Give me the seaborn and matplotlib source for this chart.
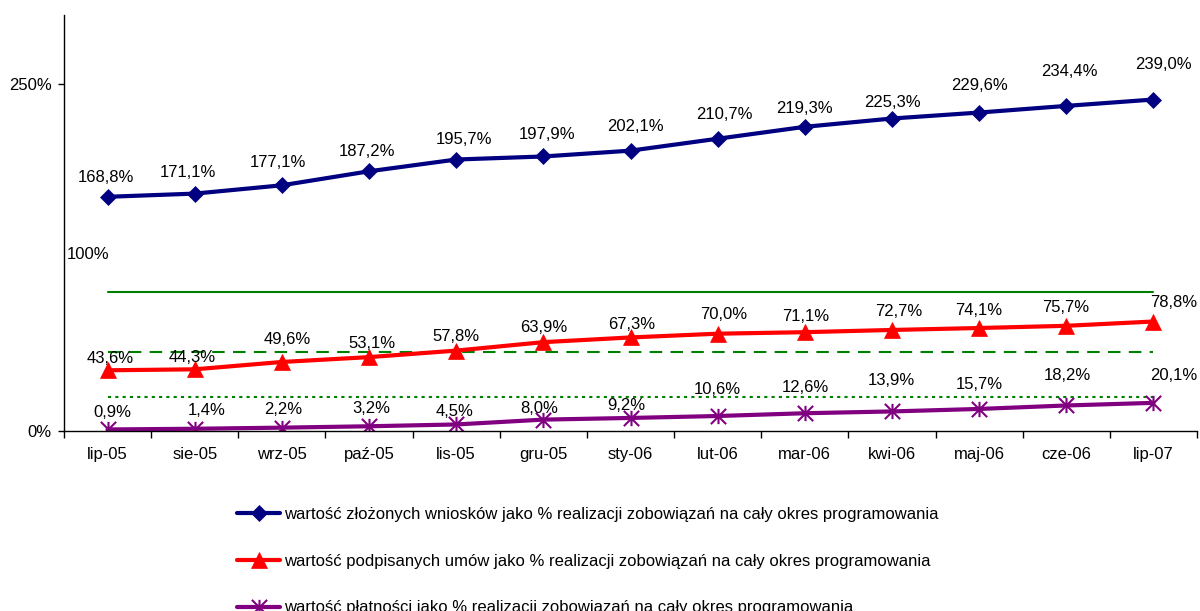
import numpy as np
import pandas as pd
import seaborn as sns
import matplotlib.pyplot as plt
from matplotlib.path import Path

# dane
months = ["lip-05", "sie-05", "wrz-05", "paź-05", "lis-05", "gru-05", "sty-06",
          "lut-06", "mar-06", "kwi-06", "maj-06", "cze-06", "lip-07"]
wnioski = [168.8, 171.1, 177.1, 187.2, 195.7, 197.9, 202.1, 210.7, 219.3, 225.3, 229.6, 234.4, 239.0]
umowy = [43.6, 44.3, 49.6, 53.1, 57.8, 63.9, 67.3, 70.0, 71.1, 72.7, 74.1, 75.7, 78.8]
platnosci = [0.9, 1.4, 2.2, 3.2, 4.5, 8.0, 9.2, 10.6, 12.6, 13.9, 15.7, 18.2, 20.1]
ref_levels = [100, 57, 24]
series_names = [
    "wartość złożonych wniosków jako % realizacji zobowiązań na cały okres programowania",
    "wartość podpisanych umów jako % realizacji zobowiązań na cały okres programowania",
    "wartość płatności jako % realizacji zobowiązań na cały okres programowania",
]

# przesuniecia etykiet danych (piksele)
blue_dx = [-2, -7, -4, -2, 8, 4, 5, 7, 0, 0, 0, 3, 10]
blue_dy = [19, 21, 23, 20, 20, 22, 24, 24, 18, 16, 27, 34, 35]
red_dx = [3, -3, 5, 3, 0, 0, 1, 6, 1, 7, 0, -1, 20]
red_dy = [12, 12, 22, 14, 14, 15, 13, 19, 16, 18, 18, 18, 19]
purple_dx = [5, 12, 1, 2, -2, -4, -4, 0, 1, -1, 0, 1, 20]
purple_dy = [17, 18, 18, 18, 13, 11, 12, 27, 26, 31, 24, 30, 27]

sns.set_style("ticks")
plt.rcParams['font.family'] = ['Liberation Sans', 'DejaVu Sans']
plt.rcParams['text.color'] = 'black'
plt.rcParams['xtick.color'] = 'black'
plt.rcParams['ytick.color'] = 'black'
FS = 12

# gwiazdka jak w Excelu: X + pionowa kreska
star = Path([(0, -1), (0, 1), (-1, -1), (1, 1), (-1, 1), (1, -1)],
            [Path.MOVETO, Path.LINETO, Path.MOVETO, Path.LINETO, Path.MOVETO, Path.LINETO])

fig = plt.figure(figsize=(12, 6.11), dpi=100)
ax = fig.add_axes([64 / 1200, 180.3 / 611, 1133 / 1200, 415.7 / 611])

x = np.arange(len(months))

# linie odniesienia (zielone)
for lvl, ls in zip(ref_levels, ["-", (0, (6, 4)), (0, (1.5, 2))]):
    sns.lineplot(x=x, y=[lvl] * len(x), color="#008000", lw=1.5, linestyle=ls, ax=ax)

series = [
    (wnioski, "#000080", "D", 8.5, 0.5, blue_dx, blue_dy),
    (umowy, "#FF0000", "^", 11, 0.5, red_dx, red_dy),
    (platnosci, "#800080", star, 11, 1.5, purple_dx, purple_dy),
]
for (vals, col, mk, ms, mew, dxs, dys), name in zip(series, series_names):
    sns.lineplot(x=x, y=vals, color=col, lw=3, marker=mk, markersize=ms,
                 markeredgecolor=col, markerfacecolor=col, markeredgewidth=mew,
                 label=name, ax=ax)
    for xi, v, dx, dy in zip(x, vals, dxs, dys):
        ax.annotate(f"{v:.1f}%".replace(".", ","), (xi, v), xytext=(dx, dy),
                    textcoords="offset pixels", ha="center", va="center", fontsize=FS)

ax.text(-0.22, 126.8, "100%", ha="center", va="center", fontsize=FS)

ax.set_xlim(-0.5, len(months) - 0.5)
ax.set_ylim(0, 300)
ax.set_yticks([0, 250])
ax.set_yticklabels(["0%", "250%"], fontsize=FS)
ax.set_xticks(x)
ax.set_xticklabels(months, fontsize=FS)
ax.set_xticks(np.arange(-0.5, len(months)), minor=True)
ax.tick_params(axis="x", which="major", length=0, pad=12)
ax.tick_params(axis="x", which="minor", length=5, width=1, color="black")
ax.tick_params(axis="y", length=4, width=1, color="black", pad=5)
ax.set_xlabel("")
ax.set_ylabel("")
sns.despine(ax=ax)
for s in ["left", "bottom"]:
    ax.spines[s].set_color("black")
    ax.spines[s].set_linewidth(1)

h, l = ax.get_legend_handles_labels()
ax.get_legend().remove()
fig.legend(h, l, loc="upper left", bbox_to_anchor=(237 / 1200, 0.170), frameon=False,
           fontsize=FS, handlelength=2.6, handletextpad=0.2, labelspacing=1.9,
           borderpad=0, borderaxespad=0)

fig.savefig("out.png", dpi=100)
